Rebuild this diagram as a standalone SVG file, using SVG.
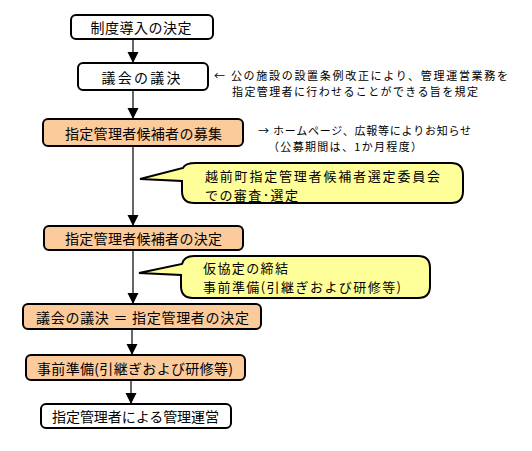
<svg xmlns="http://www.w3.org/2000/svg" width="532" height="451" viewBox="0 0 532 451">
<defs>
<style>
text{font-family:"Noto Sans CJK JP","Noto Sans CJK SC",sans-serif;fill:#000;}
.bt{font-size:14px;text-anchor:middle;dominant-baseline:central;}
.ct{font-size:13px;dominant-baseline:central;}
.at{font-size:11px;dominant-baseline:central;}
.w{fill:#fff;stroke:#000;stroke-width:2;}
.o{fill:#FCCB9C;stroke:#000;stroke-width:2;}
.y{fill:#FFFF99;stroke:#000;stroke-width:2;}
.c{stroke:#000;stroke-width:1.2;fill:none;marker-end:url(#ah);}
</style>
<marker id="ah" markerUnits="userSpaceOnUse" markerWidth="12" markerHeight="12" viewBox="0 0 12 12" refX="11" refY="6" orient="auto">
<path d="M0,0.5 L11,6 L0,11.5 Z" fill="#000"/>
</marker>
</defs>
<rect width="532" height="451" fill="#fff"/>
<g id="connectors">
<line class="c" x1="133" y1="39" x2="133" y2="63"/>
<line class="c" x1="133" y1="90" x2="133" y2="119"/>
<line class="c" x1="133" y1="146" x2="133" y2="226"/>
<line class="c" x1="133" y1="250" x2="133" y2="304"/>
<line class="c" x1="132" y1="329" x2="132" y2="355"/>
<line class="c" x1="131" y1="380" x2="131" y2="404"/>
</g>
<g id="n1">
<rect class="w" x="71" y="15" width="142" height="24" rx="5"/>
<text class="bt" x="141" y="27" textLength="101">制度導入の決定</text>
</g>
<g id="n2">
<rect class="w" x="78" y="63" width="130" height="27" rx="5"/>
<text class="bt" x="141" y="76.5" textLength="79">議会の議決</text>
</g>
<g id="note1">
<text class="at" x="214" y="75" textLength="294">← 公の施設の設置条例改正により、管理運営業務を</text>
<text class="at" x="232" y="91" textLength="246">指定管理者に行わせることができる旨を規定</text>
</g>
<g id="n3">
<rect class="o" x="43" y="119" width="200" height="27" rx="5"/>
<text class="bt" x="143.5" y="132.5" textLength="157">指定管理者候補者の募集</text>
</g>
<g id="note2">
<text class="at" x="258" y="130" textLength="213">→ ホームページ、広報等によりお知らせ</text>
<text class="at" x="268" y="146" textLength="154">（公募期間は、1か月程度）</text>
</g>
<g id="callout1">
<path class="y" d="M140,179 L183,168 Q185,163 196,163 L451,163 Q463,163 463,175 L463,191 Q463,203 451,203 L194,203 Q182,203 182,191 L182,181 Z"/>
<text class="ct" x="205" y="175" textLength="235">越前町指定管理者候補者選定委員会</text>
<text class="ct" x="205" y="194" textLength="93">での審査･選定</text>
</g>
<g id="n4">
<rect class="o" x="44" y="226" width="199" height="24" rx="5"/>
<text class="bt" x="143.5" y="238" textLength="157">指定管理者候補者の決定</text>
</g>
<g id="callout2">
<path class="y" d="M139,273 L182,264 Q184,256 194,256 L418,256 Q430,256 430,268 L430,286 Q430,298 418,298 L193,298 Q181,298 181,286 L181,275 Z"/>
<text class="ct" x="203" y="267" textLength="85">仮協定の締結</text>
<text class="ct" x="203" y="286" textLength="198">事前準備(引継ぎおよび研修等)</text>
</g>
<g id="n5">
<rect class="o" x="23" y="304" width="238" height="25" rx="5"/>
<text class="bt" x="142.5" y="316.5" textLength="213">議会の議決 ＝ 指定管理者の決定</text>
</g>
<g id="n6">
<rect class="o" x="26" y="355" width="219" height="25" rx="5"/>
<text class="bt" x="135" y="367.5" textLength="196">事前準備(引継ぎおよび研修等)</text>
</g>
<g id="n7">
<rect class="w" x="41" y="404" width="190" height="24" rx="5"/>
<text class="bt" x="135.5" y="416" textLength="167">指定管理者による管理運営</text>
</g>
</svg>
